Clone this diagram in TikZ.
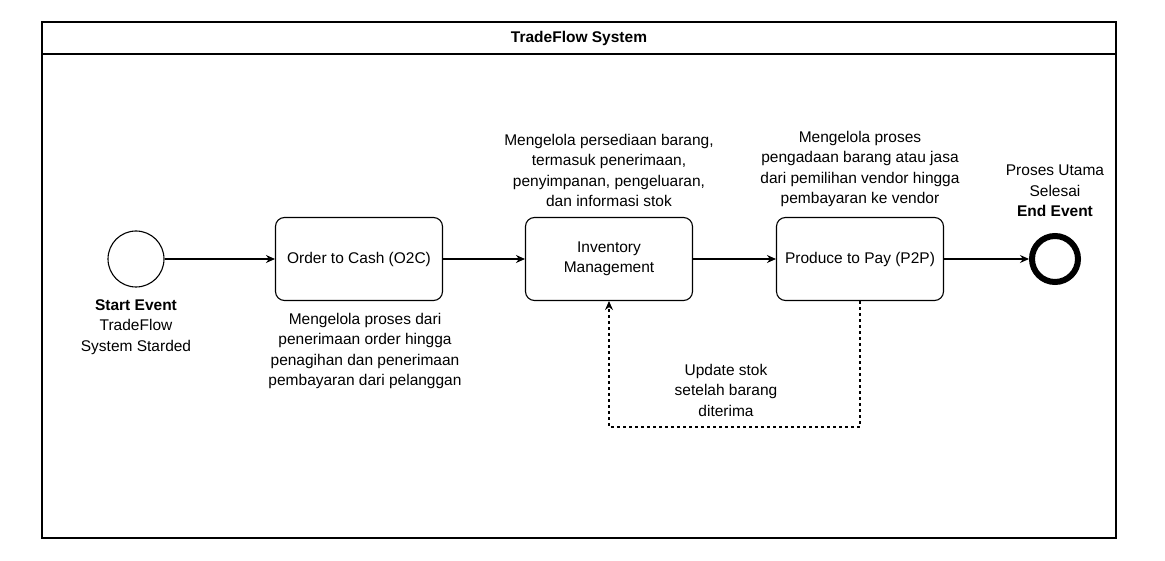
\documentclass[tikz,border=0pt]{standalone}
\usepackage{fontspec}
\setmainfont{Liberation Sans}
\usetikzlibrary{arrows.meta}
\tikzset{
    task/.style={draw, rounded corners=9pt, line width=1.1pt, minimum width=167pt, minimum height=83pt, align=center},
    note/.style={align=center, inner sep=0pt},
    flow/.style={line width=1.1pt, -{Stealth[length=9pt,width=8pt]}}
}
\begin{document}
\begin{tikzpicture}[x=1pt,y=-1pt,font=\fontsize{15.5}{20.5}\selectfont]
    \useasboundingbox (0,0) rectangle (1165,561);
    \draw[line width=1.1pt] (42,22) rectangle (1116,538);
    \draw[line width=1.1pt] (42,54) -- (1116,54);
    \node[note, font=\fontsize{15.5}{20.5}\selectfont\bfseries] (title) at (579,38) {TradeFlow System};

    \node[draw, circle, line width=1.1pt, minimum size=56pt] (start) at (136,259) {};
    \node[task] (o2c) at (359,259) {Order to Cash (O2C)};
    \node[task] (inv) at (609,259) {Inventory\\Management};
    \node[task] (p2p) at (860,259) {Produce to Pay (P2P)};
    \node[draw, circle, line width=6pt, minimum size=46pt] (end) at (1055,259) {};

    \draw[flow] (start) -- (o2c);
    \draw[flow] (o2c) -- (inv);
    \draw[flow] (inv) -- (p2p);
    \draw[flow] (p2p) -- (end.west);

    \coordinate (c1) at (860,427);
    \coordinate (c2) at (609,427);
    \draw[flow, dashed, dash pattern=on 3pt off 3pt] (p2p.south) -- (c1) -- (c2) -- (inv.south);

    \node[note, anchor=north] (startlbl) at (136,299) {\textbf{Start Event}\\TradeFlow\\System Starded};
    \node[note, anchor=north] (o2clbl) at (365,313) {Mengelola proses dari\\penerimaan order hingga\\penagihan dan penerimaan\\pembayaran dari pelanggan};
    \node[note, anchor=south] (invlbl) at (609,207) {Mengelola persediaan barang,\\termasuk penerimaan,\\penyimpanan, pengeluaran,\\dan informasi stok};
    \node[note, anchor=south] (p2plbl) at (860,207) {Mengelola proses\\pengadaan barang atau jasa\\dari pemilihan vendor hingga\\pembayaran ke vendor};
    \node[note, anchor=south] (endlbl) at (1055,217) {Proses Utama\\Selesai\\\textbf{End Event}};
    \node[note, anchor=north] (updlbl) at (726,364) {Update stok\\setelah barang\\diterima};
\end{tikzpicture}
\end{document}
